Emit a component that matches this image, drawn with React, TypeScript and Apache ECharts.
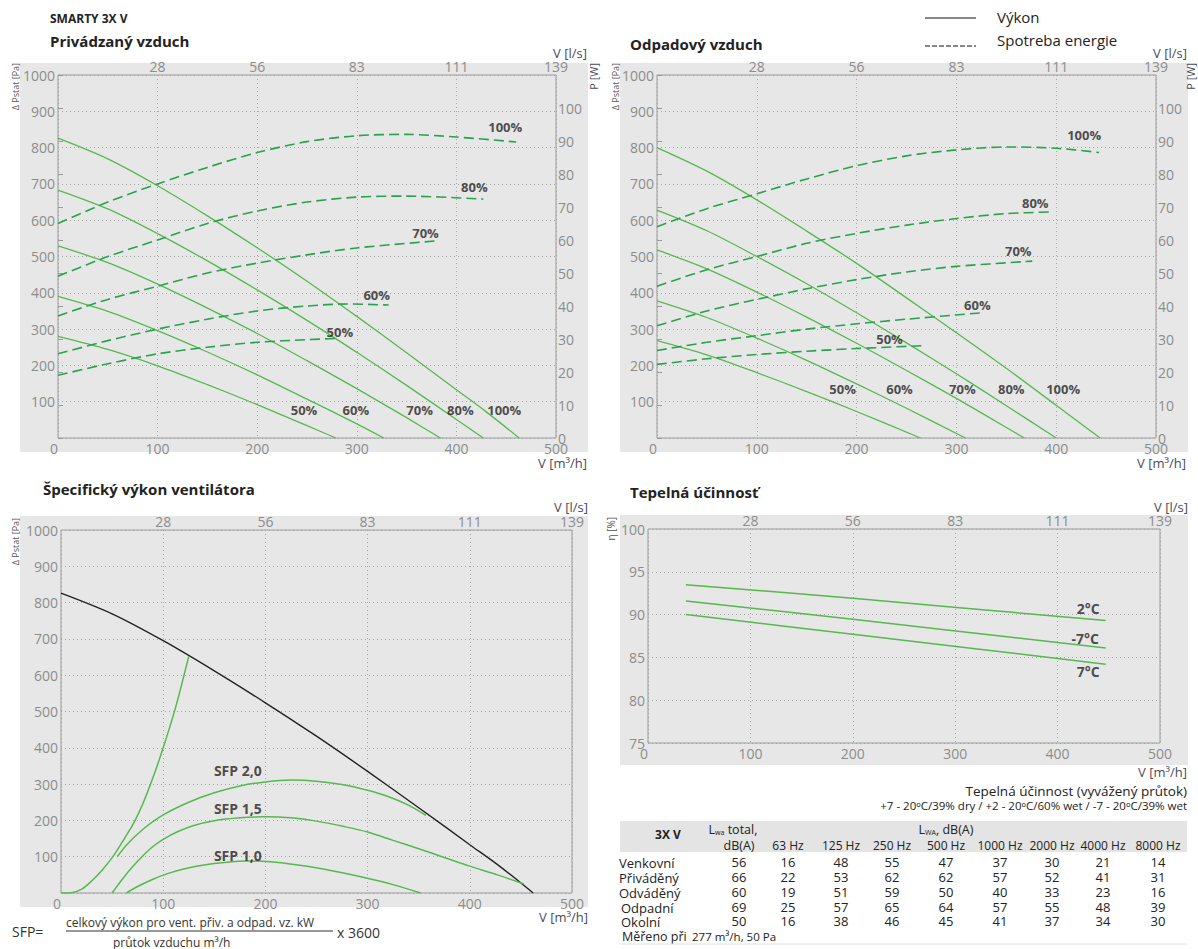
import React, { useEffect, useRef } from "react";
import * as echarts from "echarts";

// ---------- axis ticks ----------
const flowMin = 0;
const flowMax = 500;
const flowStep = 100;
const pressMax = 1000;
const pressStep = 100;
const powerMax = 110;
const powerStep = 10;
const effMin = 75;
const effMax = 100;
const effStep = 5;

// ---------- Privádzaný vzduch: pressure [m3/h, Pa] ----------
const supplyP100 = [[0, 826], [50, 769], [100, 695], [150, 612], [200, 524], [250, 432], [300, 335], [350, 235], [400, 133], [430, 72], [463, 0]];
const supplyP80 = [[0, 683], [50, 631], [100, 563], [150, 488], [200, 408], [250, 324], [300, 236], [350, 145], [400, 51], [427, 0]];
const supplyP70 = [[0, 529], [50, 483], [100, 424], [150, 358], [200, 288], [250, 213], [300, 136], [350, 56], [384, 0]];
const supplyP60 = [[0, 390], [50, 349], [100, 296], [150, 237], [200, 174], [250, 107], [300, 39], [327, 0]];
const supplyP50 = [[0, 280], [50, 244], [100, 199], [150, 147], [200, 92], [250, 34], [279, 0]];
// power [m3/h, W]
const supplyW100 = [[0, 65], [50, 71.5], [100, 77], [150, 82], [200, 86.5], [250, 89.8], [300, 91.6], [350, 92], [400, 91.2], [460, 89.7]];
const supplyW80 = [[0, 49], [50, 55], [100, 60], [150, 65], [200, 68.8], [250, 71.5], [300, 73], [350, 73.3], [427, 72.4]];
const supplyW70 = [[0, 37], [50, 42], [100, 46], [150, 50], [200, 53], [250, 55.5], [300, 57.6], [379, 59.7]];
const supplyW60 = [[0, 25.5], [50, 29.5], [100, 33], [150, 36], [200, 38.5], [250, 40], [290, 40.6], [332, 40.3]];
const supplyW50 = [[0, 19], [50, 22.5], [100, 25.5], [150, 27.5], [200, 29], [250, 29.8], [282, 30.2]];
const supplyLabels = [[449, 857, "100%"], [418, 691, "80%"], [369, 565, "70%"], [320, 394, "60%"], [283, 292, "50%"], [247, 77, "50%"], [299, 77, "60%"], [363, 77, "70%"], [404, 77, "80%"], [448, 77, "100%"]];

// ---------- Odpadový vzduch ----------
const exhaustP100 = [[0, 800], [50, 735], [100, 656], [150, 570], [200, 481], [250, 386], [300, 290], [350, 192], [400, 90], [444, 0]];
const exhaustP80 = [[0, 628], [50, 571], [100, 500], [150, 425], [200, 345], [250, 262], [300, 177], [350, 89], [400, 0]];
const exhaustP70 = [[0, 518], [50, 466], [100, 402], [150, 333], [200, 261], [250, 186], [300, 109], [350, 29], [368, 0]];
const exhaustP60 = [[0, 378], [50, 332], [100, 275], [150, 214], [200, 149], [250, 82], [309, 0]];
const exhaustP50 = [[0, 268], [50, 229], [100, 180], [150, 128], [200, 73], [264, 0]];
const exhaustW100 = [[0, 64], [50, 69.5], [100, 74], [150, 78.5], [200, 82.5], [250, 85.5], [300, 87.3], [350, 88.2], [400, 87.8], [443, 86.5]];
const exhaustW80 = [[0, 46], [50, 51], [100, 55], [150, 59], [200, 62], [250, 64.5], [300, 66.5], [350, 68], [396, 68.5]];
const exhaustW70 = [[0, 34], [50, 38.5], [100, 42], [150, 45.2], [200, 48], [250, 50.3], [300, 52], [376, 53.6]];
const exhaustW60 = [[0, 26.5], [50, 29], [100, 31], [150, 33], [200, 34.6], [250, 36], [328, 38]];
const exhaustW50 = [[0, 22.3], [50, 24], [100, 25.3], [150, 26.3], [200, 27.1], [269, 28]];
const exhaustLabels = [[428, 835, "100%"], [379, 647, "80%"], [362, 515, "70%"], [321, 366, "60%"], [233, 273, "50%"], [186, 134, "50%"], [243, 134, "60%"], [306, 134, "70%"], [355, 134, "80%"], [407, 134, "100%"]];

// ---------- Špecifický výkon ventilátora ----------
const sfpMax = [[0, 826], [50, 769], [100, 695], [150, 612], [200, 524], [250, 432], [300, 335], [350, 235], [400, 133], [430, 72], [462, 0]];
const sfpLimit = [[0, 0], [10, 1], [20, 10], [30, 33], [40, 62], [52, 105], [62, 150], [71, 192], [80, 245], [90, 318], [100, 400], [112, 510], [125, 652]];
const sfp20 = [[55, 100], [65, 135], [80, 175], [100, 215], [125, 250], [150, 276], [175, 295], [200, 306], [225, 311], [250, 308], [275, 299], [300, 283], [320, 266], [340, 242], [357, 214]];
const sfp15 = [[50, 0], [60, 38], [70, 72], [80, 102], [90, 128], [100, 148], [115, 170], [130, 186], [150, 199], [175, 207], [200, 210], [225, 207], [250, 198], [277, 183], [300, 168], [325, 145], [350, 122], [375, 98], [400, 74], [427, 50], [453, 25]];
const sfp10 = [[64, 0], [75, 18], [90, 38], [105, 54], [120, 66], [140, 77], [160, 84], [183, 88], [205, 86], [230, 78], [255, 67], [280, 53], [305, 37], [330, 19], [352, 0]];
const sfpLabels = [[173, 337, "SFP 2,0"], [173, 233, "SFP 1,5"], [173, 104, "SFP 1,0"]];

// ---------- Tepelná účinnosť ----------
const eff2 = [[37, 93.5], [200, 91.9], [447, 89.3]];
const effMinus7 = [[37, 91.6], [200, 89.45], [447, 86.1]];
const eff7 = [[37, 90.0], [200, 87.7], [447, 84.2]];
const effLabels = [[430, 90.7, "2°C"], [427, 87.2, "-7°C"], [430, 83.3, "7°C"]];

// ---------- noise table ----------
const noiseBands = ["63 Hz", "125 Hz", "250 Hz", "500 Hz", "1000 Hz", "2000 Hz", "4000 Hz", "8000 Hz"];
const noiseRowNames = ["Venkovní", "Přiváděný", "Odváděný", "Odpadní", "Okolní"];
const noiseVenkovni = [56, 16, 48, 55, 47, 37, 30, 21, 14];
const noisePrivadeny = [66, 22, 53, 62, 62, 57, 52, 41, 31];
const noiseOdvadeny = [60, 19, 51, 59, 50, 40, 33, 23, 16];
const noiseOdpadni = [69, 25, 57, 65, 64, 57, 55, 48, 39];
const noiseOkolni = [50, 16, 38, 46, 45, 41, 37, 34, 30];

const FONT = '"Open Sans", "Noto Sans", sans-serif';
const GREEN = "#55b94e";
const DASH = "#27a24e";
const TICK = "#8c8c8c";
const UNIT = "#4a4a5a";
const PANEL = "#e7e7e7";

const gridLine = { show: true, lineStyle: { color: "#a5a5a5", type: [1, 3], width: 1 } };

function xBottom(gridIndex: number) {
  return {
    type: "value", gridIndex, position: "bottom", min: flowMin, max: flowMax, interval: flowStep,
    axisLine: { show: false }, axisTick: { show: false },
    axisLabel: { color: TICK, fontSize: 14, fontFamily: FONT, margin: 3, alignMinLabel: "right" },
    splitLine: gridLine,
  };
}
function xTop(gridIndex: number) {
  return {
    type: "value", gridIndex, position: "top", min: flowMin, max: flowMax, interval: flowStep,
    axisLine: { show: false }, axisTick: { show: false },
    axisLabel: { color: TICK, fontSize: 14, fontFamily: FONT, margin: 2, formatter: (v: number) => (v === 0 ? "" : String(Math.round(v / 3.6))) },
    splitLine: { show: false },
  };
}
function yLeft(gridIndex: number, min: number, max: number, interval: number, hideMin: boolean) {
  return {
    type: "value", gridIndex, position: "left", min, max, interval,
    axisLine: { show: false }, axisTick: { show: false },
    axisLabel: { color: TICK, fontSize: 14, fontFamily: FONT, margin: 3, formatter: (v: number) => (hideMin && v === min ? "" : String(v)) },
    splitLine: gridLine,
  };
}
function yRight(gridIndex: number) {
  return {
    type: "value", gridIndex, position: "right", min: 0, max: powerMax, interval: powerStep,
    axisLine: { show: false },
    axisTick: { show: true, length: 5, lineStyle: { color: "#999" } },
    axisLabel: { color: TICK, fontSize: 14, fontFamily: FONT, margin: 2, formatter: (v: number) => (v === powerMax ? "" : String(v)) },
    splitLine: { show: false },
  };
}

const solid = (xi: number, yi: number, data: number[][], color = GREEN, width = 1.3) => ({
  type: "line", xAxisIndex: xi, yAxisIndex: yi, data, smooth: 0.3, symbol: "none", silent: true, z: 3,
  lineStyle: { color, width },
});
const dashed = (xi: number, yi: number, data: number[][]) => ({
  type: "line", xAxisIndex: xi, yAxisIndex: yi, data, smooth: 0.3, symbol: "none", silent: true, z: 3,
  lineStyle: { color: DASH, width: 1.6, type: [10, 5] },
});
const labels = (xi: number, yi: number, data: any[], size = 13) => ({
  type: "scatter", xAxisIndex: xi, yAxisIndex: yi, data, symbolSize: 0, silent: true, z: 5,
  itemStyle: { color: "transparent" },
  label: { show: true, position: "inside", formatter: (p: any) => p.data[2], color: "#222", fontWeight: "bold", fontSize: size, fontFamily: FONT },
});

function txt(x: number, y: number, text: string, o: any = {}) {
  return {
    type: "text", x, y, silent: true, z: 50, rotation: o.rotation || 0,
    style: {
      text, fill: o.fill || "#222",
      font: `${o.weight || "normal"} ${o.size || 13}px ${FONT}`,
      textAlign: o.align || "left", verticalAlign: o.valign || "middle",
      rich: o.rich,
    },
  };
}
function rect(x: number, y: number, w: number, h: number, fill: string) {
  return { type: "rect", silent: true, z: -10, shape: { x, y, width: w, height: h }, style: { fill } };
}
function hline(x1: number, y: number, x2: number, stroke: string, dash?: number[]) {
  return { type: "line", silent: true, z: 50, shape: { x1, y1: y, x2, y2: y }, style: { stroke, lineWidth: 1, lineDash: dash } };
}

function buildGraphic() {
  const els: any[] = [];
  // gray panels
  els.push(rect(20, 63, 568, 389, PANEL));
  els.push(rect(620, 63, 568, 389, PANEL));
  els.push(rect(20, 516, 568, 391, PANEL));
  els.push(rect(620, 515, 568, 250, PANEL));
  // titles
  els.push(txt(50, 18, "SMARTY 3X V", { weight: "bold", size: 12 }));
  els.push(txt(50, 41, "Privádzaný vzduch", { weight: "bold", size: 15 }));
  els.push(txt(630, 44, "Odpadový vzduch", { weight: "bold", size: 15 }));
  els.push(txt(43, 489, "Špecifický výkon ventilátora", { weight: "bold", size: 15 }));
  els.push(txt(630, 492, "Tepelná účinnosť", { weight: "bold", size: 15 }));
  // legend
  els.push(hline(925, 18, 976, "#111"));
  els.push(txt(997, 17, "Výkon", { size: 15 }));
  els.push(hline(925, 46, 976, "#111", [5, 2]));
  els.push(txt(997, 40, "Spotreba energie", { size: 15 }));
  // axis units
  const unitsTop = [[587, 53], [1187, 53], [588, 507], [1188, 507]];
  unitsTop.forEach(([x, y]) => els.push(txt(x, y, "V [l/s]", { align: "right", size: 13, fill: UNIT })));
  const unitsBottom = [[587, 463], [1186, 463], [588, 917], [1187, 772]];
  unitsBottom.forEach(([x, y]) => els.push(txt(x, y, "V [m³/h]", { align: "right", size: 13, fill: UNIT })));
  els.push(txt(15, 63, "Δ Pstat [Pa]", { rotation: Math.PI / 2, align: "right", size: 9, fill: "#555" }));
  els.push(txt(615, 63, "Δ Pstat [Pa]", { rotation: Math.PI / 2, align: "right", size: 9, fill: "#555" }));
  els.push(txt(15, 518, "Δ Pstat [Pa]", { rotation: Math.PI / 2, align: "right", size: 9, fill: "#555" }));
  els.push(txt(611, 517, "η [%]", { rotation: Math.PI / 2, align: "right", size: 10, fill: "#555" }));
  els.push(txt(593, 63, "P [W]", { rotation: Math.PI / 2, align: "right", size: 11, fill: UNIT }));
  els.push(txt(1190, 63, "P [W]", { rotation: Math.PI / 2, align: "right", size: 11, fill: UNIT }));
  // efficiency note
  els.push(txt(1187, 791, "Tepelná účinnost (vyvážený průtok)", { align: "right", size: 13.5, fill: "#222" }));
  els.push(txt(1187, 805, "+7 - 20ᵒC/39% dry / +2 - 20ᵒC/60% wet / -7 - 20ᵒC/39% wet", { align: "right", size: 11.5, fill: "#222" }));
  // noise table
  els.push(rect(620, 821, 567, 31, "#e4e4e4"));
  const cols = [739, 788, 841, 892, 946, 1000, 1052, 1103, 1158];
  els.push(txt(668, 834, "3X V", { align: "center", weight: "bold", size: 12 }));
  const rich = { m: { fontSize: 12.5, fontFamily: FONT, fill: "#222" }, s: { fontSize: 7, fontFamily: FONT, fill: "#222", verticalAlign: "bottom", padding: [6, 0, 0, 0] } };
  els.push(txt(733, 829, "{m|L}{s|wa}{m| total,}", { align: "center", rich }));
  els.push(txt(946, 829, "{m|L}{s|WA}{m|, dB(A)}", { align: "center", rich }));
  els.push(txt(cols[0], 845, "dB(A)", { align: "center", size: 12.5 }));
  noiseBands.forEach((b, i) => els.push(txt(cols[i + 1], 845, b, { align: "center", size: 12 })));
  const rows = [noiseVenkovni, noisePrivadeny, noiseOdvadeny, noiseOdpadni, noiseOkolni];
  const rowY = [862, 877, 892, 907, 921];
  const rowX = [619, 619, 619, 621, 621];
  rows.forEach((r, ri) => {
    els.push(txt(rowX[ri], rowY[ri] + 1, noiseRowNames[ri], { size: 13 }));
    r.forEach((v, ci) => els.push(txt(cols[ci], rowY[ri], String(v), { align: "center", size: 13 })));
  });
  els.push(txt(622, 936, "Měřeno při", { size: 12.5 }));
  els.push(txt(692, 936, "277 m³/h, 50 Pa", { size: 11.5 }));
  els.push(hline(620, 944, 1187, "#e0e0e0"));
  // SFP formula
  els.push(txt(12, 931, "SFP=", { size: 14, fill: "#333" }));
  els.push(txt(66, 922, "celkový výkon pro vent. přiv. a odpad. vz. kW", { size: 12, fill: "#333" }));
  els.push(hline(66, 931, 333, "#333"));
  els.push(txt(337, 932, "x 3600", { size: 14, fill: "#333" }));
  els.push(txt(113, 942, "průtok vzduchu m³/h", { size: 12, fill: "#333" }));
  return els;
}

export default function App() {
  const ref = useRef<HTMLDivElement>(null);
  useEffect(() => {
    if (!ref.current) return;
    const chart = echarts.init(ref.current, undefined, { renderer: "svg" });
    const gridBase = { show: true, borderColor: "#9b9b9b", borderWidth: 1, backgroundColor: "rgba(0,0,0,0)", containLabel: false };
    const option: any = {
      animation: false,
      backgroundColor: "#ffffff",
      grid: [
        { ...gridBase, left: 58, top: 75, width: 498, height: 363 },
        { ...gridBase, left: 657, top: 75, width: 499, height: 363 },
        { ...gridBase, left: 61, top: 530, width: 511, height: 363 },
        { ...gridBase, left: 648, top: 529, width: 512, height: 214 },
      ],
      xAxis: [xBottom(0), xTop(0), xBottom(1), xTop(1), xBottom(2), xTop(2), xBottom(3), xTop(3)],
      yAxis: [
        yLeft(0, 0, pressMax, pressStep, true),
        yRight(0),
        yLeft(1, 0, pressMax, pressStep, true),
        yRight(1),
        yLeft(2, 0, pressMax, pressStep, true),
        yLeft(3, effMin, effMax, effStep, false),
      ],
      series: [
        solid(0, 0, supplyP100), solid(0, 0, supplyP80), solid(0, 0, supplyP70), solid(0, 0, supplyP60), solid(0, 0, supplyP50),
        dashed(0, 1, supplyW100), dashed(0, 1, supplyW80), dashed(0, 1, supplyW70), dashed(0, 1, supplyW60), dashed(0, 1, supplyW50),
        labels(0, 0, supplyLabels),
        solid(2, 2, exhaustP100), solid(2, 2, exhaustP80), solid(2, 2, exhaustP70), solid(2, 2, exhaustP60), solid(2, 2, exhaustP50),
        dashed(2, 3, exhaustW100), dashed(2, 3, exhaustW80), dashed(2, 3, exhaustW70), dashed(2, 3, exhaustW60), dashed(2, 3, exhaustW50),
        labels(2, 2, exhaustLabels),
        solid(4, 4, sfpMax, "#222", 1.4), solid(4, 4, sfpLimit, GREEN, 1.5), solid(4, 4, sfp20, GREEN, 1.5), solid(4, 4, sfp15, GREEN, 1.5), solid(4, 4, sfp10, GREEN, 1.5),
        labels(4, 4, sfpLabels, 14),
        solid(6, 5, eff2, GREEN, 1.5), solid(6, 5, effMinus7, GREEN, 1.5), solid(6, 5, eff7, GREEN, 1.5),
        labels(6, 5, effLabels, 14),
      ],
      graphic: { elements: buildGraphic() },
    };
    chart.setOption(option);
    return () => chart.dispose();
  }, []);
  return <div ref={ref} style={{ position: "absolute", left: 0, top: 0, width: 1198, height: 949 }} />;
}
